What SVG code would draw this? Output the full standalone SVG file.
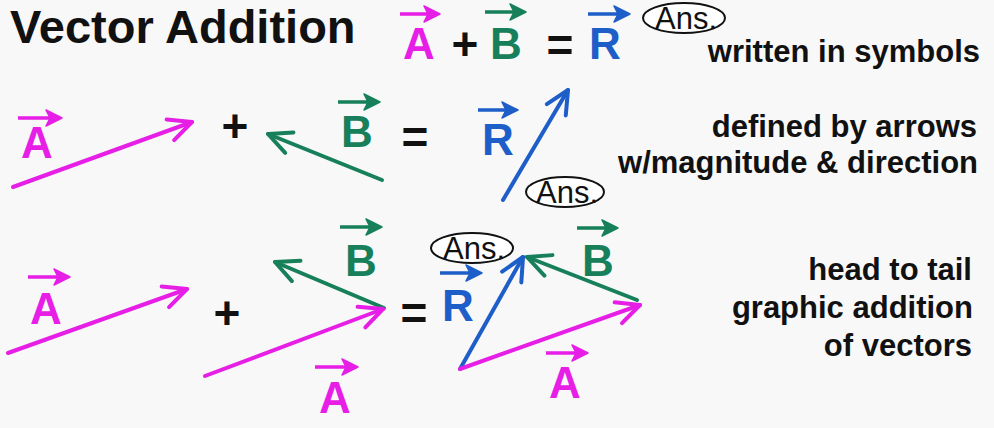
<svg xmlns="http://www.w3.org/2000/svg" width="994" height="428" viewBox="0 0 994 428">
<defs>
<style>
text{font-family:"Liberation Sans",Arial,sans-serif}
.title{font-size:47px;font-weight:bold;fill:#111}
.lab{font-size:31px;font-weight:bold;fill:#111;text-anchor:end}
.let{font-size:44px;font-weight:bold;text-anchor:middle}
.op{font-size:46px;font-weight:bold;fill:#111;text-anchor:middle}
.ans{font-size:31px;fill:#111;text-anchor:middle}
.ell{fill:#fff;stroke:#111;stroke-width:2}
.m{fill:#e61ee6}.g{fill:#17805a}.b{fill:#1e5ec8}
.vm{stroke:#e61ee6}.vg{stroke:#17805a}.vb{stroke:#1e5ec8}
.over{stroke-width:3.5;fill:none}
.vec{stroke-width:4;fill:none;stroke-linecap:round}
</style>
<marker id="om" markerUnits="userSpaceOnUse" markerWidth="24" markerHeight="24" refX="0" refY="0" viewBox="-16 -12 20 24" orient="auto"><path d="M-13,-8 L3,0 L-13,8 L-9,0 Z" fill="#e61ee6" stroke="#e61ee6" stroke-width="1.5" stroke-linejoin="round"/></marker>
<marker id="og" markerUnits="userSpaceOnUse" markerWidth="24" markerHeight="24" refX="0" refY="0" viewBox="-16 -12 20 24" orient="auto"><path d="M-13,-8 L3,0 L-13,8 L-9,0 Z" fill="#17805a" stroke="#17805a" stroke-width="1.5" stroke-linejoin="round"/></marker>
<marker id="ob" markerUnits="userSpaceOnUse" markerWidth="24" markerHeight="24" refX="0" refY="0" viewBox="-16 -12 20 24" orient="auto"><path d="M-13,-8 L3,0 L-13,8 L-9,0 Z" fill="#1e5ec8" stroke="#1e5ec8" stroke-width="1.5" stroke-linejoin="round"/></marker>
<marker id="hm" markerUnits="userSpaceOnUse" markerWidth="40" markerHeight="40" refX="0" refY="0" viewBox="-30 -20 36 40" orient="auto"><path d="M-23,-11 L0,0 L-23,11" fill="none" stroke="#e61ee6" stroke-width="4" stroke-linecap="round" stroke-linejoin="round"/></marker>
<marker id="hg" markerUnits="userSpaceOnUse" markerWidth="40" markerHeight="40" refX="0" refY="0" viewBox="-30 -20 36 40" orient="auto"><path d="M-23,-11 L0,0 L-23,11" fill="none" stroke="#17805a" stroke-width="4" stroke-linecap="round" stroke-linejoin="round"/></marker>
<marker id="hb" markerUnits="userSpaceOnUse" markerWidth="40" markerHeight="40" refX="0" refY="0" viewBox="-30 -20 36 40" orient="auto"><path d="M-23,-11 L0,0 L-23,11" fill="none" stroke="#1e5ec8" stroke-width="4" stroke-linecap="round" stroke-linejoin="round"/></marker>
</defs>
<rect width="994" height="428" fill="#f8f8f8"/>

<g id="title"><text class="title" x="10" y="43">Vector Addition</text></g>

<g id="row1">
<line class="over vm" x1="400" y1="14" x2="437" y2="14" marker-end="url(#om)"/>
<text class="let m" x="419" y="59">A</text>
<text class="op" x="465" y="60">+</text>
<line class="over vg" x1="485" y1="12" x2="523" y2="12" marker-end="url(#og)"/>
<text class="let g" x="506" y="59">B</text>
<text class="op" x="560" y="61">=</text>
<line class="over vb" x1="588" y1="14" x2="627" y2="14" marker-end="url(#ob)"/>
<text class="let b" x="605" y="59">R</text>
<g id="ans1"><ellipse class="ell" cx="684" cy="18" rx="41" ry="15"/><text class="ans" x="686" y="29">Ans.</text></g>
<text class="lab" x="980" y="62">written in symbols</text>
</g>

<g id="row2">
<line class="over vm" x1="18" y1="118" x2="59" y2="118" marker-end="url(#om)"/>
<text class="let m" x="37" y="158">A</text>
<text class="op" x="235" y="142">+</text>
<line class="over vg" x1="338" y1="102" x2="377" y2="102" marker-end="url(#og)"/>
<text class="let g" x="357" y="147">B</text>
<text class="op" x="415" y="153">=</text>
<line class="over vb" x1="478" y1="110" x2="515" y2="110" marker-end="url(#ob)"/>
<text class="let b" x="498" y="155">R</text>
<g id="ans2"><ellipse class="ell" cx="565" cy="192" rx="39" ry="15"/><text class="ans" x="567" y="203">Ans.</text></g>
<text class="lab" x="977" y="137">defined by arrows</text>
<text class="lab" x="978" y="173">w/magnitude &amp; direction</text>
</g>

<g id="row3">
<line class="over vm" x1="28" y1="277" x2="67" y2="277" marker-end="url(#om)"/>
<text class="let m" x="46" y="324">A</text>
<text class="op" x="227" y="329">+</text>
<line class="over vg" x1="340" y1="227" x2="379" y2="227" marker-end="url(#og)"/>
<text class="let g" x="361" y="276">B</text>
<line class="over vm" x1="315" y1="367" x2="355" y2="367" marker-end="url(#om)"/>
<text class="let m" x="335" y="413">A</text>
<text class="op" x="414" y="329">=</text>
<line class="over vb" x1="440" y1="273" x2="479" y2="273" marker-end="url(#ob)"/>
<text class="let b" x="458" y="321">R</text>
<g id="ans3"><ellipse class="ell" cx="472" cy="248" rx="41" ry="15"/><text class="ans" x="474" y="259">Ans.</text></g>
<line class="over vm" x1="546" y1="353" x2="585" y2="353" marker-end="url(#om)"/>
<text class="let m" x="565" y="398">A</text>
<line class="over vg" x1="577" y1="228" x2="615" y2="228" marker-end="url(#og)"/>
<text class="let g" x="598" y="276">B</text>
<text class="lab" x="972" y="280">head to tail</text>
<text class="lab" x="973" y="318">graphic addition</text>
<text class="lab" x="972" y="356">of vectors</text>
</g>

<g id="connectors">
<line class="vec vm" x1="13" y1="187" x2="192" y2="122" marker-end="url(#hm)"/>
<line class="vec vg" x1="382" y1="180" x2="268" y2="134" marker-end="url(#hg)"/>
<line class="vec vb" x1="503" y1="200" x2="568" y2="90" marker-end="url(#hb)"/>
<line class="vec vm" x1="8" y1="353" x2="187" y2="289" marker-end="url(#hm)"/>
<line class="vec vg" x1="384" y1="308" x2="275" y2="262" marker-end="url(#hg)"/>
<line class="vec vm" x1="205" y1="376" x2="383" y2="309" marker-end="url(#hm)"/>
<line class="vec vb" x1="460" y1="369" x2="523" y2="257" marker-end="url(#hb)"/>
<line class="vec vg" x1="637" y1="300" x2="527" y2="257" marker-end="url(#hg)"/>
<line class="vec vm" x1="460" y1="369" x2="640" y2="305" marker-end="url(#hm)"/>
</g>
</svg>
